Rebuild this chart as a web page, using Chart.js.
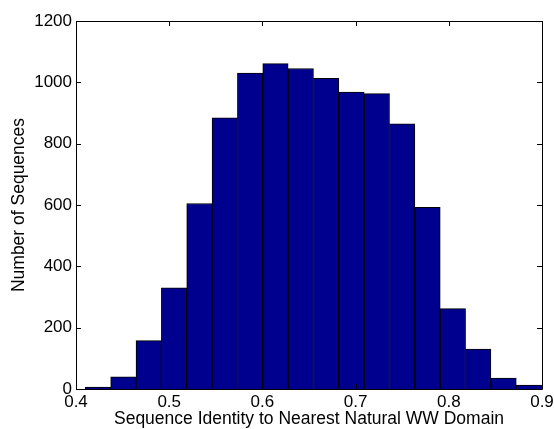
<!DOCTYPE html>
<html>
<head>
<meta charset="utf-8">
<script src="https://cdn.jsdelivr.net/npm/chart.js@4/dist/chart.umd.min.js"></script>
<style>
  html, body { margin: 0; padding: 0; background: #fff; }
  #wrap { width: 554px; height: 429px; }
</style>
</head>
<body>
<div id="wrap"><canvas id="myChart" width="554" height="429"></canvas></div>
<script>
// histogram bins (centre of each bin) and counts
const binCenters = [0.4236, 0.4508, 0.4780, 0.5052, 0.5324, 0.5596, 0.5868, 0.6140, 0.6412,
                    0.6684, 0.6956, 0.7228, 0.7500, 0.7772, 0.8044, 0.8316, 0.8588, 0.8860]
const counts = [6, 40, 158, 330, 605, 884, 1030, 1061, 1045,
                1013, 968, 963, 865, 592, 262, 130, 36, 13]
const xTicks = [0.4, 0.5, 0.6, 0.7, 0.8, 0.9]
const yTicks = [0, 200, 400, 600, 800, 1000, 1200]

const points = binCenters.map((c, i) => ({ x: c, y: counts[i] }))
const font = { family: 'Liberation Sans', size: 17 }
const titleFont = { family: 'Liberation Sans', size: 17.5 }

// matlab style box with inward ticks on all sides
const boxPlugin = {
  id: 'box',
  afterDraw(chart) {
    const ctx = chart.ctx
    const a = chart.chartArea
    const xs = chart.scales.x
    const ys = chart.scales.y
    const len = 5
    ctx.save()
    ctx.strokeStyle = '#000'
    ctx.lineWidth = 1
    ctx.beginPath()
    ctx.rect(Math.round(a.left) + 0.5, Math.round(a.top) + 0.5,
             Math.round(a.right - a.left), Math.round(a.bottom - a.top))
    xTicks.forEach(v => {
      const px = Math.round(xs.getPixelForValue(v)) + 0.5
      ctx.moveTo(px, a.bottom); ctx.lineTo(px, a.bottom - len)
      ctx.moveTo(px, a.top); ctx.lineTo(px, a.top + len)
    })
    yTicks.forEach(v => {
      const py = Math.round(ys.getPixelForValue(v)) + 0.5
      ctx.moveTo(a.left, py); ctx.lineTo(a.left + len, py)
      ctx.moveTo(a.right, py); ctx.lineTo(a.right - len, py)
    })
    ctx.stroke()
    ctx.restore()
  }
}

const ctx = document.getElementById('myChart').getContext('2d')
const myChart = new Chart(ctx, {
  type: 'bar',
  data: {
    datasets: [{
      label: 'counts',
      data: points,
      backgroundColor: '#00008f',
      borderColor: '#000',
      borderWidth: 1,
      barPercentage: 1.0,
      categoryPercentage: 1.0
    }]
  },
  options: {
    responsive: false,
    animation: false,
    layout: { padding: { top: 21, right: 12, left: 0, bottom: 0 } },
    plugins: {
      legend: { display: false },
      tooltip: { enabled: false }
    },
    scales: {
      x: {
        type: 'linear',
        min: 0.4,
        max: 0.9,
        offset: false,
        grid: { display: false, offset: false, drawTicks: false },
        border: { display: false },
        afterBuildTicks: s => { s.ticks = xTicks.map(v => ({ value: v })) },
        afterFit: s => { s.height = 40; s.paddingLeft = 0; s.paddingRight = 0 },
        ticks: {
          color: '#000',
          font: font,
          padding: 3,
          maxRotation: 0,
          callback: v => v.toFixed(1)
        },
        title: {
          display: true,
          text: 'Sequence Identity to Nearest Natural WW Domain',
          color: '#000',
          font: titleFont,
          padding: { top: 0, bottom: -1 }
        }
      },
      y: {
        min: 0,
        max: 1200,
        grid: { display: false, drawTicks: false },
        border: { display: false },
        afterBuildTicks: s => { s.ticks = yTicks.map(v => ({ value: v })) },
        afterFit: s => { s.width = 76 },
        ticks: {
          color: '#000',
          font: font,
          padding: 4,
          callback: v => String(v)
        },
        title: {
          display: true,
          text: 'Number of Sequences',
          color: '#000',
          font: titleFont,
          padding: { top: 9, bottom: 0 }
        }
      }
    }
  },
  plugins: [boxPlugin]
})
</script>
</body>
</html>
